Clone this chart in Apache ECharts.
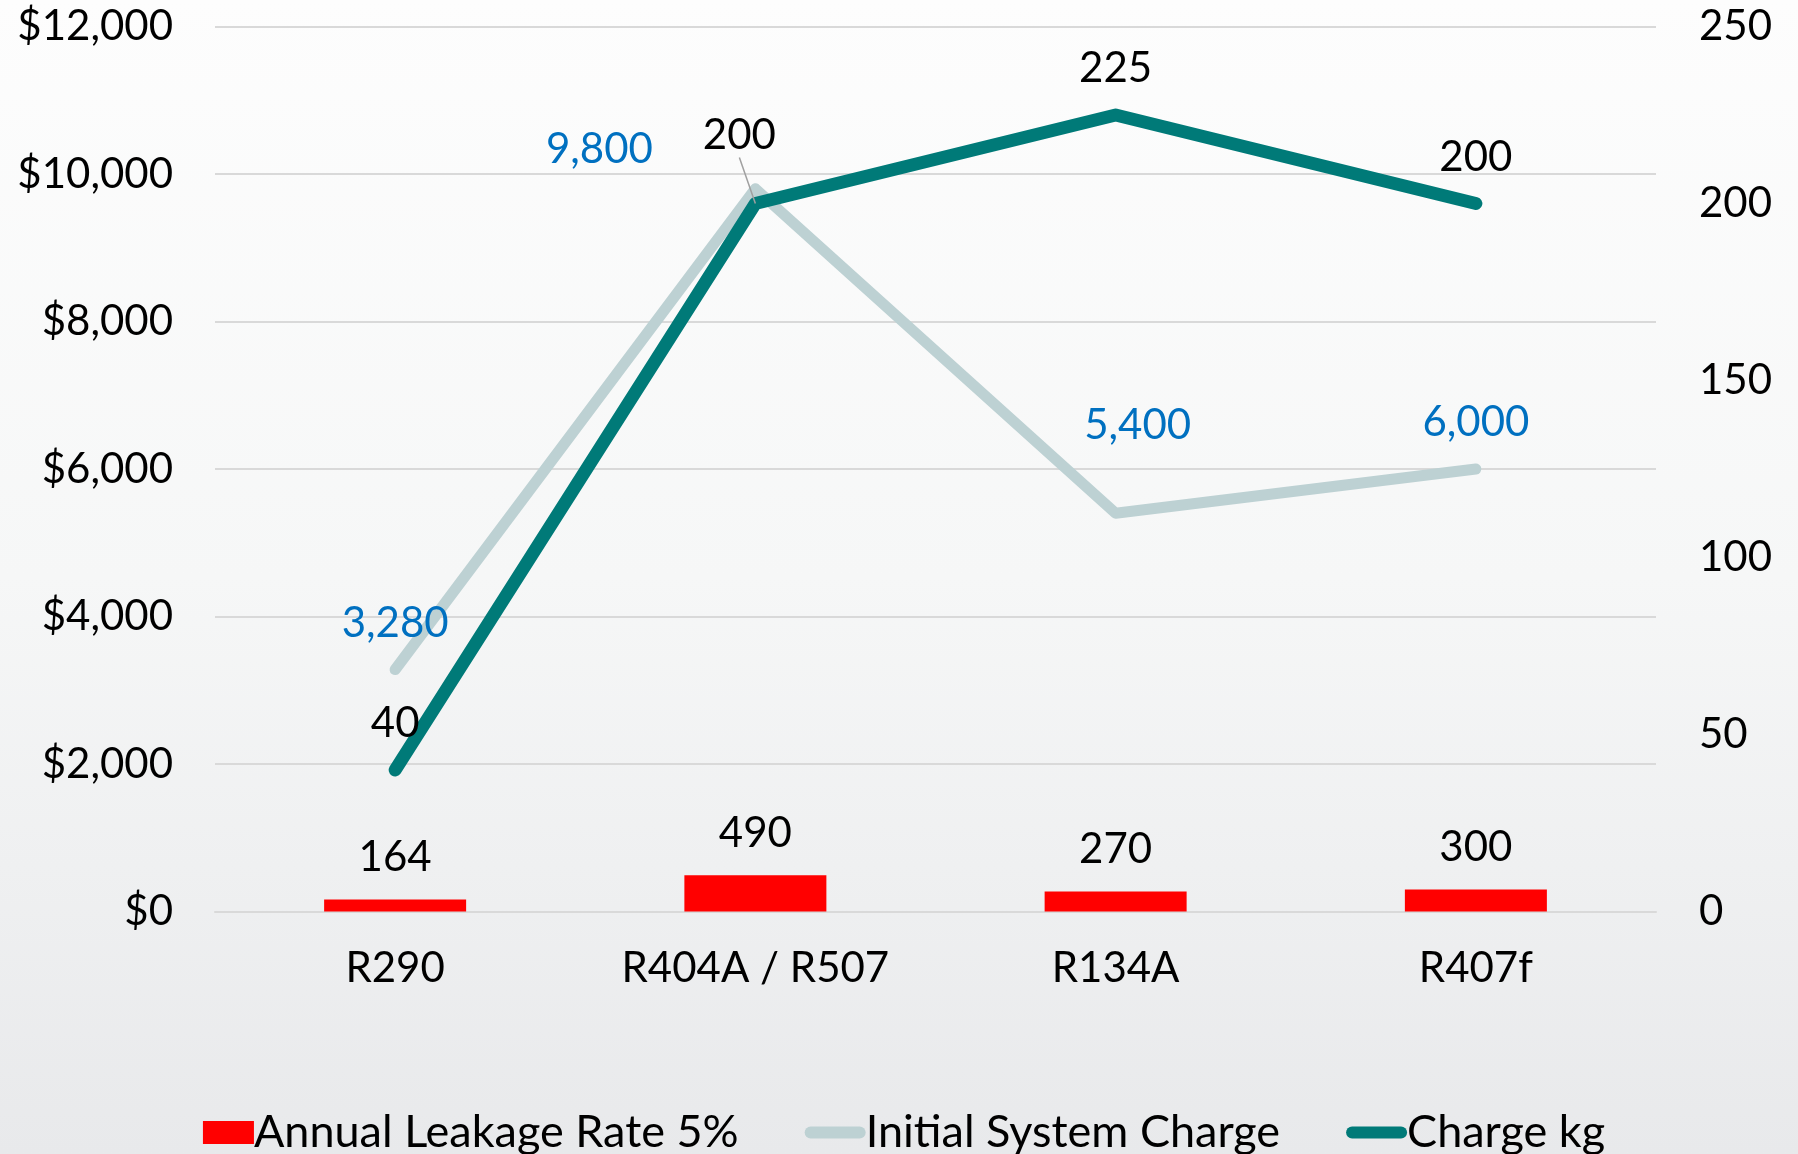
<!DOCTYPE html>
<html>
<head>
<meta charset="utf-8">
<script src="https://cdn.jsdelivr.net/npm/echarts@6/dist/echarts.min.js"></script>
<style>
html,body{margin:0;padding:0;width:1798px;height:1154px;overflow:hidden;
background:linear-gradient(to bottom,#fdfdfd 0%,#f6f7f7 50%,#e8e9eb 100%);}
#c{width:1798px;height:1154px;}
</style>
</head>
<body>
<div id="c"></div>
<script>
const categories = ['R290', 'R404A / R507', 'R134A', 'R407f'];
const leakage = [164, 490, 270, 300];
const initialCharge = [3280, 9800, 5400, 6000];
const chargeKg = [40, 200, 225, 200];
const leftTicks = {min: 0, max: 12000, interval: 2000};
const rightTicks = {min: 0, max: 250, interval: 50};
const seriesNames = ['Annual Leakage Rate 5%', 'Initial System Charge', 'Charge kg'];

const FONT = 'Lato';
const FS = 42;

const initLabelTweaks = [
  {offset: [0, 0]},
  {offset: [-156, 7]},
  {offset: [22, -42]},
  {offset: [0, 0]}
];

const rectIcon = 'path://M0,0 M61,23 M10,0 L61,0 L61,23 L10,23 Z';
const lineIcon = 'path://M0,0 M61,23 M6,5.5 L55,5.5 A6,6 0 0 1 55,17.5 L6,17.5 A6,6 0 0 1 6,5.5 Z';

const chart = echarts.init(document.getElementById('c'), null, {renderer: 'canvas'});
chart.setOption({
  backgroundColor: 'transparent',
  textStyle: {fontFamily: FONT},
  animation: false,
  grid: {left: 215, right: 142, top: 26.5, bottom: 242.5},
  legend: {
    data: [
      {name: seriesNames[0], icon: rectIcon},
      {name: seriesNames[1], icon: lineIcon},
      {name: seriesNames[2], icon: lineIcon}
    ],
    top: 1105,
    left: 'center',
    itemGap: 66,
    itemWidth: 61,
    itemHeight: 23,
    textStyle: {fontFamily: FONT, fontSize: 45, color: '#000', padding: [0, 0, 0, -5]}
  },
  xAxis: {
    type: 'category',
    data: categories,
    axisLine: {lineStyle: {color: '#d9d9d9', width: 2}},
    axisTick: {show: false},
    axisLabel: {fontFamily: FONT, fontSize: FS, color: '#000', margin: 36}
  },
  yAxis: [
    {
      type: 'value',
      min: leftTicks.min, max: leftTicks.max, interval: leftTicks.interval,
      axisLine: {show: false}, axisTick: {show: false},
      splitLine: {lineStyle: {color: '#d9d9d9', width: 2}},
      axisLabel: {
        fontFamily: FONT, fontSize: FS, color: '#000', margin: 42,
        formatter: v => '$' + v.toLocaleString('en-US')
      }
    },
    {
      type: 'value',
      min: rightTicks.min, max: rightTicks.max, interval: rightTicks.interval,
      axisLine: {show: false}, axisTick: {show: false},
      splitLine: {show: false},
      axisLabel: {fontFamily: FONT, fontSize: FS, color: '#000', margin: 43}
    }
  ],
  series: [
    {
      name: seriesNames[0],
      type: 'bar',
      yAxisIndex: 0,
      barWidth: 142,
      data: leakage,
      itemStyle: {color: '#ff0000'},
      label: {
        show: true, position: 'top', distance: 20,
        fontFamily: FONT, fontSize: FS, lineHeight: 44, color: '#000'
      },
      z: 1
    },
    {
      name: seriesNames[1],
      type: 'line',
      yAxisIndex: 0,
      data: initialCharge.map((v, i) => ({value: v, label: initLabelTweaks[i]})),
      symbol: 'circle', symbolSize: 0.1, showSymbol: true,
      lineStyle: {color: '#bdd1d3', width: 11, cap: 'round', join: 'round'},
      itemStyle: {color: '#bdd1d3'},
      label: {
        show: true, position: 'top', distance: 24,
        fontFamily: FONT, fontSize: FS, lineHeight: 44, color: '#0070c0',
        formatter: p => p.value.toLocaleString('en-US')
      },
      z: 2
    },
    {
      name: seriesNames[2],
      type: 'line',
      yAxisIndex: 1,
      data: chargeKg.map((v, i) => i === 1
        ? {value: v, labelLine: {show: true, lineStyle: {color: '#a0a0a0', width: 1.5}}}
        : {value: v, labelLine: {show: false}}),
      symbol: 'circle', symbolSize: 0.1, showSymbol: true,
      lineStyle: {color: '#007a78', width: 13, cap: 'round', join: 'round'},
      itemStyle: {color: '#007a78'},
      label: {
        show: true, position: 'top', distance: 24,
        fontFamily: FONT, fontSize: FS, lineHeight: 44, color: '#000'
      },
      labelLine: {show: false},
      labelLayout: p => p.dataIndex === 1 ? {dx: -16, dy: -22} : {},
      z: 3
    }
  ]
});
</script>
</body>
</html>
